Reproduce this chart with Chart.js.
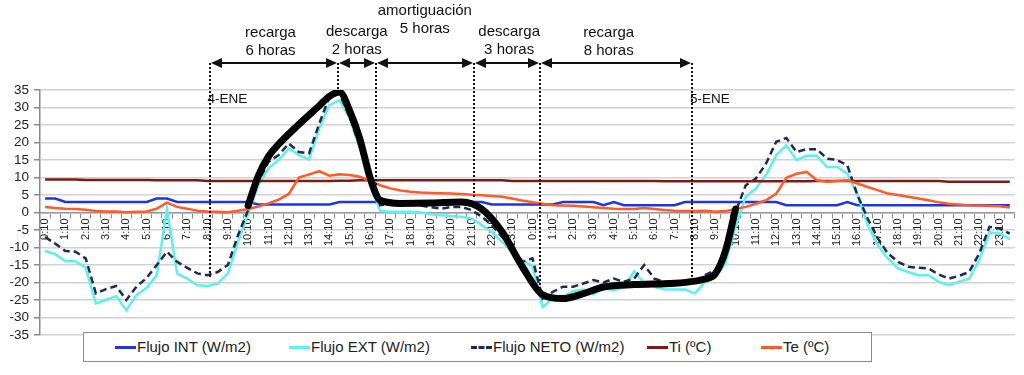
<!DOCTYPE html>
<html>
<head>
<meta charset="utf-8">
<script src="https://cdn.jsdelivr.net/npm/chart.js@4.4.0/dist/chart.umd.min.js"></script>
<style>
  html, body { margin: 0; padding: 0; background: #fff; }
  #wrap { position: relative; width: 1024px; height: 375px; }
  #legend { position: absolute; left: 83px; top: 332px; width: 787px; height: 28px; border: 1px solid #8a8a8a; background: #fff;
            font: 15px "Liberation Sans", Arial, sans-serif; color: #222; }
  .item { position: absolute; top: 5px; white-space: nowrap; }
  .swatch { display: inline-block; width: 21px; height: 0; border-top: 3px solid; vertical-align: middle; margin-right: 1px; position: relative; top: -1px; }
</style>
</head>
<body>
<div id="wrap">
  <canvas id="chart" width="1024" height="375"></canvas>
  <div id="legend"></div>
</div>
<script>
// two days, one sample every 30 min (h:10 and h:40)
const times = [];
for (let d = 0; d < 2; d++) {
  for (let h = 0; h < 24; h++) { times.push(h + ':10'); times.push(h + ':40'); }
}

const flujoInt = [
  4.0, 4.0, 3.0, 3.0, 3.0, 3.0, 3.0, 3.0, 3.0, 3.0, 3.0, 4.0, 4.0, 3.0, 3.0, 3.0, 3.0, 3.0, 3.0, 3.0,
  3.0, 2.3, 2.3, 2.3, 2.3, 2.3, 2.3, 2.3, 2.3, 3.0, 3.0, 3.0, 3.0, 3.0, 3.0, 3.0, 3.0, 3.0, 3.0, 3.0,
  3.0, 3.0, 3.0, 3.0, 2.3, 2.3, 2.3, 2.3, 2.3, 2.3, 2.3, 3.0, 3.0, 3.0, 3.0, 2.1, 3.0, 2.1, 2.1, 2.1,
  2.1, 2.1, 2.1, 3.0, 3.0, 3.0, 3.0, 3.0, 3.0, 3.0, 3.0, 3.0, 3.0, 2.1, 2.1, 2.1, 2.1, 2.1, 2.1, 3.0,
  2.1, 2.1, 2.1, 2.1, 2.1, 2.1, 2.1, 2.1, 2.1, 2.1, 2.1, 2.1, 2.1, 2.1, 2.1, 2.1
];
const flujoExt = [
  -11.0, -11.9, -13.9, -13.9, -15.8, -26.0, -25.0, -23.9, -27.9, -23.6, -21.5, -17.9, 1.0, -17.4, -18.9, -20.8, -21.0, -20.3, -17.4, -8.4,
  -0.3, 7.8, 12.6, 15.0, 18.3, 16.4, 15.2, 24.0, 30.7, 32.1, 26.9, 18.3, 8.8, 0.4, 0.2, 0.2, 0.2, 0.0, -0.5, -0.8,
  -1.0, -1.2, -1.7, -3.6, -5.5, -8.4, -11.2, -13.6, -15.5, -27.0, -24.6, -24.0, -22.5, -22.0, -23.4, -21.6, -22.2, -21.4, -16.8, -20.2,
  -21.2, -22.0, -22.0, -22.0, -23.1, -19.8, -18.6, -14.5, -4.0, 4.5, 6.9, 10.7, 16.4, 19.2, 15.0, 16.2, 16.2, 13.0, 13.0, 11.1,
  5.0, -3.6, -9.3, -13.1, -16.0, -17.0, -17.9, -17.9, -19.8, -20.8, -19.8, -18.9, -13.6, -5.7, -6.0, -7.6
];
const flujoNeto = [
  -7.0, -8.9, -11.0, -11.2, -13.1, -23.1, -21.9, -21.0, -25.0, -21.2, -18.7, -15.0, -11.2, -14.1, -15.8, -17.4, -17.9, -17.0, -15.0, -6.5,
  0.7, 8.8, 14.5, 16.4, 19.7, 17.3, 16.9, 25.4, 33.0, 34.0, 27.3, 18.8, 9.7, 2.1, 2.4, 2.5, 2.5, 2.0, 1.5, 1.1,
  1.6, 1.6, 0.7, -1.2, -3.6, -7.0, -10.3, -14.1, -13.1, -24.6, -22.7, -21.2, -21.2, -20.3, -19.3, -20.0, -18.9, -19.8, -18.9, -15.0,
  -18.9, -19.8, -19.8, -19.8, -20.3, -17.9, -16.5, -12.2, 0.2, 7.8, 9.7, 14.0, 20.2, 21.3, 17.3, 18.1, 18.1, 15.4, 15.0, 13.5,
  5.0, -1.7, -7.4, -11.7, -14.1, -15.5, -15.8, -16.0, -17.7, -18.9, -18.1, -17.0, -11.7, -4.1, -4.6, -6.0
];
const tempInt = [
  9.4, 9.4, 9.4, 9.4, 9.3, 9.3, 9.3, 9.3, 9.3, 9.3, 9.3, 9.2, 9.2, 9.2, 9.2, 9.2, 9.0, 9.0, 9.0, 9.0,
  9.0, 9.0, 9.0, 9.0, 9.0, 9.0, 9.0, 9.0, 9.0, 9.1, 9.1, 9.2, 9.2, 9.2, 9.2, 9.2, 9.2, 9.2, 9.2, 9.2,
  9.2, 9.2, 9.2, 9.2, 9.2, 9.2, 9.0, 9.0, 9.0, 9.0, 9.0, 9.0, 9.0, 9.0, 9.0, 9.0, 9.0, 9.0, 9.0, 9.0,
  9.0, 8.9, 8.9, 8.9, 8.9, 8.9, 8.9, 8.9, 8.9, 8.9, 8.9, 8.9, 8.9, 8.9, 8.9, 8.9, 9.0, 9.0, 9.0, 9.0,
  9.0, 9.0, 9.0, 9.0, 9.0, 9.0, 9.0, 9.0, 9.0, 8.8, 8.8, 8.8, 8.8, 8.8, 8.8, 8.8
];
const tempExt = [
  1.6, 1.3, 1.1, 1.0, 0.8, 0.4, 0.3, 0.3, 0.1, 0.2, 0.3, 1.1, 2.8, 1.6, 1.1, 0.5, 0.3, 0.2, 0.1, 0.5,
  1.0, 1.7, 2.6, 3.7, 5.3, 10.0, 10.9, 11.8, 10.5, 10.9, 10.7, 10.2, 9.0, 7.8, 6.9, 6.3, 5.9, 5.7, 5.6, 5.5,
  5.4, 5.3, 5.1, 4.9, 4.7, 4.5, 4.0, 3.4, 2.9, 2.5, 2.1, 2.0, 1.9, 1.7, 1.5, 1.3, 1.1, 1.0, 1.0, 1.3,
  1.0, 0.7, 0.5, 0.4, 0.4, 0.5, 0.2, 0.4, 1.0, 1.6, 2.5, 3.5, 5.4, 9.9, 11.1, 11.6, 9.2, 8.8, 9.0, 9.2,
  8.3, 7.3, 6.4, 5.4, 5.0, 4.5, 4.0, 3.5, 2.9, 2.5, 2.3, 2.1, 2.0, 1.9, 1.8, 1.4
];
// hand-drawn schematic curve (only at a few samples)
const tendencia = new Array(96).fill(null);
const tendIdx = [20, 21, 22, 23, 25, 27, 28, 29, 30, 31, 32, 33, 35, 38, 41, 43, 45, 47, 49, 51, 53, 55, 58, 62, 64, 65, 66, 67, 68];
const tendVal = [2.0, 10.5, 16.0, 19.5, 25.2, 30.5, 33.2, 34.4, 29.0, 21.0, 10.0, 3.5, 2.6, 2.7, 3.0, 1.0, -5.5, -15.5, -23.5, -24.6, -23.2, -21.3, -20.6, -20.2, -19.6, -19.0, -17.5, -11.0, 1.0];
tendIdx.forEach((k, n) => { tendencia[k] = tendVal[n]; });

// phase markers (sample position), lower end of each dotted line, labels
const markerIdx = [16.2, 28.8, 32.6, 42.2, 48.7, 63.7];
const markerEnd = [-18.5, 34.4, 5.5, 4.1, -23.0, -20.2];
const phaseText = [['recarga', '6 horas'], ['descarga', '2 horas'], ['amortiguación', '5 horas'], ['descarga', '3 horas'], ['recarga', '8 horas']];
const phaseCenter = [22.2, 30.7, 37.4, 45.7, 55.5];
const phaseTop = [33, 32, 11, 32, 33];
const dayText = ['4-ENE', '5-ENE'];
const dayIdx = [16.2, 63.7];

const seriesNames = ['Flujo INT (W/m2)', 'Flujo EXT (W/m2)', 'Flujo NETO (W/m2)', 'Ti (ºC)', 'Te (ºC)'];
const seriesColors = ['#2135dc', '#5cf0ee', '#1d2b52', '#7b1c14', '#ff5a2a'];
const legendLeft = [31, 205, 387, 563, 677];

const FONT = '"Liberation Sans", Arial, sans-serif';

const phasePlugin = {
  id: 'phases',
  afterDatasetsDraw(chart) {
    const { ctx, scales: { x, y }, chartArea } = chart;
    const arrowY = chartArea.top - 27;
    ctx.save();
    ctx.strokeStyle = '#111';
    ctx.fillStyle = '#111';
    ctx.lineWidth = 2;
    ctx.setLineDash([2, 2]);
    markerIdx.forEach((m, k) => {
      const px = Math.round(x.getPixelForValue(m));
      ctx.beginPath();
      ctx.moveTo(px, arrowY);
      ctx.lineTo(px, y.getPixelForValue(markerEnd[k]));
      ctx.stroke();
    });
    ctx.setLineDash([]);
    for (let k = 0; k < markerIdx.length - 1; k++) {
      const a = Math.round(x.getPixelForValue(markerIdx[k])) + 1;
      const b = Math.round(x.getPixelForValue(markerIdx[k + 1])) - 1;
      ctx.beginPath();
      ctx.moveTo(a + 6, arrowY);
      ctx.lineTo(b - 6, arrowY);
      ctx.stroke();
      ctx.beginPath();
      ctx.moveTo(a, arrowY); ctx.lineTo(a + 11, arrowY - 5); ctx.lineTo(a + 11, arrowY + 5); ctx.closePath();
      ctx.moveTo(b, arrowY); ctx.lineTo(b - 11, arrowY - 5); ctx.lineTo(b - 11, arrowY + 5); ctx.closePath();
      ctx.fill();
    }
    ctx.font = '15px ' + FONT;
    ctx.textAlign = 'center';
    ctx.textBaseline = 'middle';
    phaseText.forEach((t, k) => {
      const cx = x.getPixelForValue(phaseCenter[k]);
      ctx.fillText(t[0], cx, phaseTop[k]);
      ctx.fillText(t[1], cx, phaseTop[k] + 18);
    });
    ctx.font = '13.5px ' + FONT;
    ctx.textAlign = 'left';
    dayText.forEach((t, k) => {
      ctx.fillText(t, x.getPixelForValue(dayIdx[k]) - 2, chartArea.top + 9);
    });
    ctx.restore();
  }
};

const line = (data, color, extra) => Object.assign({
  data, borderColor: color, backgroundColor: color, borderWidth: 2.5,
  pointRadius: 0, tension: 0, fill: false
}, extra || {});

new Chart(document.getElementById('chart'), {
  type: 'line',
  data: {
    labels: times,
    datasets: [
      line(tendencia, '#000', { order: 0, borderWidth: 7, spanGaps: true, cubicInterpolationMode: 'monotone', borderCapStyle: 'round', borderJoinStyle: 'round' }),
      line(tempExt, seriesColors[4], { order: 1 }),
      line(tempInt, seriesColors[3], { order: 2 }),
      line(flujoNeto, seriesColors[2], { order: 3, borderDash: [7, 4] }),
      line(flujoExt, seriesColors[1], { order: 4 }),
      line(flujoInt, seriesColors[0], { order: 5 })
    ]
  },
  options: {
    responsive: false,
    animation: false,
    layout: { padding: { top: 90, right: 8, bottom: 40, left: 0 } },
    plugins: { legend: { display: false }, tooltip: { enabled: false } },
    scales: {
      x: {
        position: { y: 0 },
        offset: true,
        grid: { offset: true, drawOnChartArea: false, tickLength: 5, color: '#8a8a8a', lineWidth: 1 },
        border: { display: true, color: '#9a9a9a', width: 1.5 },
        ticks: {
          autoSkip: false, minRotation: 90, maxRotation: 90, padding: 1,
          color: '#222', font: { family: FONT, size: 11 },
          callback: (v, i) => (i % 2 === 0 ? times[i] : '')
        }
      },
      y: {
        min: -35, max: 35,
        afterFit: (s) => { s.width = 40; },
        grid: { color: '#d2d2d2', lineWidth: 1.5, tickLength: 6, tickColor: '#8a8a8a' },
        border: { display: true, color: '#8a8a8a', width: 1.5 },
        ticks: { stepSize: 5, autoSkip: false, padding: 5, color: '#222', font: { family: FONT, size: 13.5 } }
      }
    }
  },
  plugins: [phasePlugin]
});

const legend = document.getElementById('legend');
seriesNames.forEach((name, k) => {
  const item = document.createElement('span');
  item.className = 'item';
  item.style.left = legendLeft[k] + 'px';
  const sw = document.createElement('span');
  sw.className = 'swatch';
  sw.style.borderTopColor = seriesColors[k];
  if (k === 2) sw.style.borderTopStyle = 'dashed';
  item.appendChild(sw);
  item.appendChild(document.createTextNode(name));
  legend.appendChild(item);
});
</script>
</body>
</html>
